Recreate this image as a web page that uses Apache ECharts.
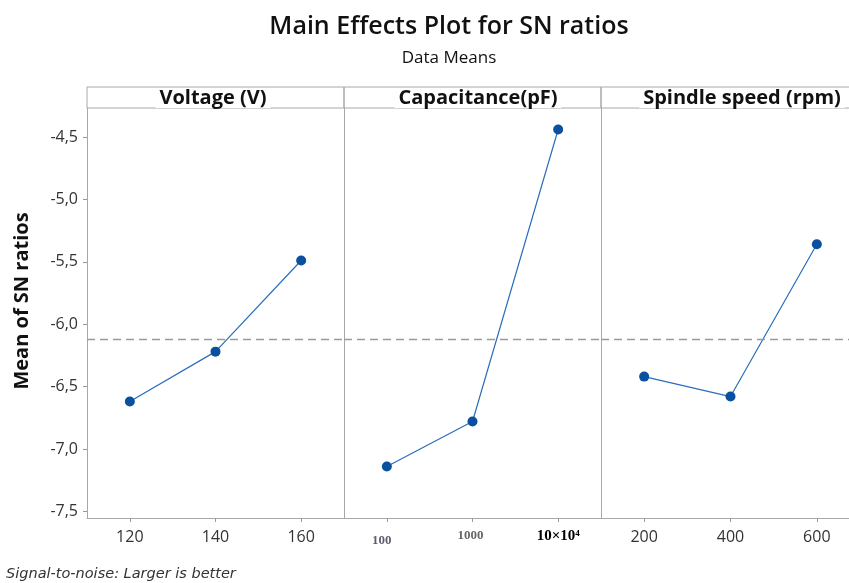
<!DOCTYPE html>
<html>
<head>
<meta charset="utf-8">
<script src="https://cdn.jsdelivr.net/npm/echarts@6/dist/echarts.min.js"></script>
<style>html,body{margin:0;padding:0;background:#fff;overflow:hidden;width:849px;height:583px;}#c{width:870px;height:583px;}</style>
</head>
<body>
<div id="c"></div>
<script>
// ---- data ----
const voltageLevels = ['120', '140', '160'];
const voltageSN = [-6.62, -6.22, -5.49];
const capLevels = ['100', '1000', '10×10⁴'];
const capSN = [-7.14, -6.78, -4.44];
const speedLevels = ['200', '400', '600'];
const speedSN = [-6.42, -6.58, -5.36];
const overallMean = -6.12;
const yTicks = [-7.5, -7.0, -6.5, -6.0, -5.5, -5.0, -4.5];
const panelTitles = ['Voltage (V)', 'Capacitance(pF)', 'Spindle speed (rpm)'];

// ---- layout ----
const FONT = '"Open Sans", "Noto Sans", sans-serif';
const yMin = -7.553, yMax = -4.268;
const panels = [
  { left: 87, width: 257, cats: voltageLevels, vals: voltageSN, titleX: 213 },
  { left: 344, width: 257, cats: capLevels, vals: capSN, titleX: 478 },
  { left: 601, width: 259, cats: speedLevels, vals: speedSN, titleX: 742 }
];
const gridTop = 108, gridH = 410;

const grids = [], xAxes = [], yAxes = [], series = [], graphics = [];
panels.forEach((p, i) => {
  grids.push({ left: p.left, top: gridTop, width: p.width, height: gridH, show: false });
  const xa = {
    type: 'category', gridIndex: i, data: p.cats, boundaryGap: true,
    axisLine: { show: true, lineStyle: { color: '#a8a8a8' } },
    axisTick: { show: true, alignWithLabel: true, length: 4, lineStyle: { color: '#999' } },
    axisLabel: { color: '#333', fontSize: 16, fontFamily: FONT, margin: 11 }
  };
  if (i === 1) {
    xa.axisLabel = {
      margin: 11,
      formatter: (v, idx) => ['{a|', '{b|', '{c|'][idx] + v + '}',
      rich: {
        a: { fontFamily: '"Liberation Serif", serif', fontSize: 13, color: '#5a5f6a', fontWeight: 'bold', padding: [5, 10, 0, 0] },
        b: { fontFamily: '"Liberation Serif", serif', fontSize: 13, color: '#666', fontWeight: 'bold', padding: [0, 4, 2, 0] },
        c: { fontFamily: '"Liberation Serif", serif', fontSize: 15, color: '#000', fontWeight: 'bold' }
      }
    };
  }
  xAxes.push(xa);
  yAxes.push({
    type: 'value', gridIndex: i, min: yMin, max: yMax,
    splitLine: { show: false },
    axisLine: { show: true, lineStyle: { color: '#a8a8a8' } },
    axisTick: { show: i === 0, length: 4, customValues: yTicks, lineStyle: { color: '#999' } },
    axisLabel: { show: i === 0, customValues: yTicks, color: '#333', fontSize: 16, fontFamily: FONT, margin: 9,
      formatter: v => v.toFixed(1).replace('.', ',') }
  });
  series.push({
    type: 'line', xAxisIndex: i, yAxisIndex: i, data: p.vals,
    symbol: 'circle', symbolSize: 10,
    lineStyle: { color: '#2a6ebb', width: 1.2 },
    itemStyle: { color: '#0b4f9f' },
    markLine: { silent: true, symbol: ['none', 'none'], label: { show: false },
      lineStyle: { color: '#9a9a9a', type: [8, 5], width: 1.3 },
      data: [{ yAxis: overallMean }] }
  });
  graphics.push({ type: 'rect', shape: { x: p.left, y: 87, width: p.width, height: 21 },
    style: { fill: 'none', stroke: '#a8a8a8', lineWidth: 1 }, z: 10 });
  graphics.push({ type: 'text', x: p.titleX, y: 98, z: 11,
    style: { text: panelTitles[i], fontFamily: '"Open Sans", sans-serif', fontSize: 20, fontWeight: 'bold',
      fill: '#111', align: 'center', verticalAlign: 'middle',
      backgroundColor: '#fff', padding: [0, 4, 0, 4], lineHeight: 20 } });
});

graphics.push({ type: 'text', x: 22, y: 301, rotation: Math.PI / 2,
  style: { text: 'Mean of SN ratios', fontFamily: FONT, fontSize: 20, fontWeight: 'bold', fill: '#111',
    align: 'center', verticalAlign: 'middle' } });
graphics.push({ type: 'text', x: 6, y: 574,
  style: { text: 'Signal-to-noise: Larger is better', fontFamily: '"DejaVu Sans", sans-serif', fontSize: 14.5, fontStyle: 'italic', fill: '#333',
    align: 'left', verticalAlign: 'middle' } });

const chart = echarts.init(document.getElementById('c'), null, { renderer: 'canvas' });
chart.setOption({
  backgroundColor: '#fff',
  animation: false,
  title: [
    { text: 'Main Effects Plot for SN ratios', left: 444, top: 9, textAlign: 'center',
      textStyle: { fontFamily: FONT, fontSize: 25, fontWeight: 600, color: '#111' } },
    { text: 'Data Means', left: 444, top: 45, textAlign: 'center',
      textStyle: { fontFamily: FONT, fontSize: 17, fontWeight: 'normal', color: '#111' } }
  ],
  grid: grids,
  xAxis: xAxes,
  yAxis: yAxes,
  series: series,
  graphic: graphics
});
</script>
</body>
</html>
